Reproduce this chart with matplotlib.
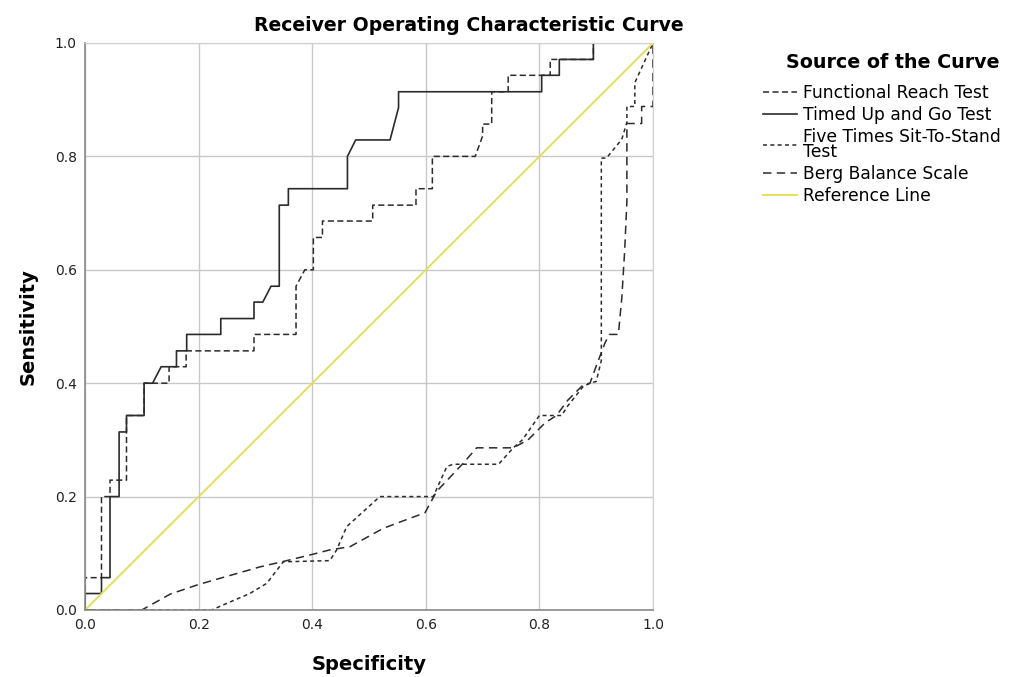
import matplotlib
matplotlib.use("Agg")
import matplotlib.pyplot as plt

plt.rcParams['font.family'] = ['DejaVu Sans']

# ROC curve points (x = "Specificity" axis as labelled in the chart, y = sensitivity)
tug_x = [0, 0, 0.029, 0.029, 0.044, 0.044, 0.060, 0.060, 0.073, 0.073, 0.104, 0.104,
         0.119, 0.134, 0.161, 0.161, 0.179, 0.179, 0.239, 0.239, 0.2975, 0.2975, 0.313,
         0.3275, 0.342, 0.342, 0.358, 0.358, 0.462, 0.462, 0.4765, 0.537, 0.552, 0.552,
         0.804, 0.804, 0.835, 0.835, 0.895, 0.895, 1.0]
tug_y = [0, 0.029, 0.029, 0.057, 0.057, 0.2, 0.2, 0.314, 0.314, 0.343, 0.343, 0.4,
         0.4, 0.429, 0.429, 0.457, 0.457, 0.486, 0.486, 0.514, 0.514, 0.543, 0.543,
         0.571, 0.571, 0.714, 0.714, 0.743, 0.743, 0.8, 0.829, 0.829, 0.886, 0.914,
         0.914, 0.943, 0.943, 0.971, 0.971, 1.0, 1.0]

frt_x = [0, 0, 0.029, 0.029, 0.044, 0.044, 0.073, 0.073, 0.104, 0.104, 0.148, 0.148,
         0.178, 0.178, 0.2975, 0.2975, 0.3715, 0.3715, 0.387, 0.402, 0.402, 0.418,
         0.418, 0.5065, 0.5065, 0.5827, 0.5827, 0.6115, 0.6115, 0.687, 0.70, 0.70,
         0.716, 0.716, 0.745, 0.745, 0.819, 0.819, 0.895, 0.895, 1.0]
frt_y = [0, 0.057, 0.057, 0.2, 0.2, 0.229, 0.229, 0.343, 0.343, 0.4, 0.4, 0.429,
         0.429, 0.457, 0.457, 0.486, 0.486, 0.571, 0.6, 0.6, 0.657, 0.657,
         0.686, 0.686, 0.714, 0.714, 0.743, 0.743, 0.8, 0.8, 0.836, 0.857,
         0.857, 0.914, 0.914, 0.943, 0.943, 0.971, 0.971, 1.0, 1.0]

ftsts_x = [0, 0.223, 0.2435, 0.29, 0.32, 0.349, 0.431, 0.443, 0.4607, 0.519, 0.613,
           0.637, 0.648, 0.728, 0.754, 0.77, 0.80, 0.839, 0.85, 0.877, 0.889, 0.90,
           0.909, 0.909, 0.918, 0.945, 0.954, 0.954, 0.968, 0.968, 1.0]
ftsts_y = [0, 0, 0.009, 0.029, 0.047, 0.085, 0.087, 0.106, 0.147, 0.2, 0.2,
           0.253, 0.257, 0.257, 0.286, 0.30, 0.343, 0.343, 0.36, 0.394, 0.40, 0.403,
           0.44, 0.797, 0.797, 0.83, 0.86, 0.888, 0.888, 0.93, 1.0]

bbs_x = [0, 0.10, 0.15, 0.20, 0.308, 0.355, 0.396, 0.431, 0.4665, 0.525, 0.5986,
         0.619, 0.666, 0.6895, 0.754, 0.78, 0.81, 0.83, 0.85, 0.877, 0.889, 0.90,
         0.915, 0.923, 0.939, 0.945, 0.95, 0.954, 0.954, 0.98, 0.98, 1.0, 1.0]
bbs_y = [0, 0, 0.028, 0.045, 0.076, 0.087, 0.097, 0.106, 0.1116, 0.144, 0.1716,
         0.209, 0.259, 0.286, 0.286, 0.30, 0.33, 0.343, 0.37, 0.397, 0.40, 0.43,
         0.47, 0.486, 0.486, 0.55, 0.632, 0.72, 0.858, 0.858, 0.888, 0.888, 1.0]

ref_x = [0, 1]
ref_y = [0, 1]

ticks = [0.0, 0.2, 0.4, 0.6, 0.8, 1.0]

fig = plt.figure(figsize=(10.17, 6.77), dpi=100)
ax = fig.add_axes([0.0836, 0.099, 0.5585, 0.8375])

line_col = '#2b2b2b'
ax.plot(frt_x, frt_y, color=line_col, lw=1.1, dashes=(4, 2.2), label='Functional Reach Test')
ax.plot(tug_x, tug_y, color=line_col, lw=1.2, label='Timed Up and Go Test')
ax.plot(ftsts_x, ftsts_y, color=line_col, lw=1.1, dashes=(2.6, 2.2),
        label='Five Times Sit-To-Stand\nTest')
ax.plot(bbs_x, bbs_y, color=line_col, lw=1.1, dashes=(5.5, 3.5), label='Berg Balance Scale')
ax.plot(ref_x, ref_y, color='#e6dc4c', lw=1.3, label='Reference Line')

ax.set_xlim(0, 1)
ax.set_ylim(0, 1)
ax.set_xticks(ticks)
ax.set_yticks(ticks)
ax.set_xticklabels([f"{t:.1f}" for t in ticks])
ax.set_yticklabels([f"{t:.1f}" for t in ticks])
ax.tick_params(length=0, labelsize=10, pad=6, colors='#222222')
ax.grid(True, color='#c8c8c8', lw=1)
ax.set_axisbelow(True)
for side in ['top', 'right']:
    ax.spines[side].set_color('#d0d0d0')
for side in ['left', 'bottom']:
    ax.spines[side].set_color('#8a8a8a')
    ax.spines[side].set_linewidth(1.2)

ax.set_xlabel('Specificity', fontsize=14, fontweight='bold', labelpad=16)
ax.set_ylabel('Sensitivity', fontsize=14, fontweight='bold', labelpad=12)
fig.text(0.461, 0.962, 'Receiver Operating Characteristic Curve', ha='center', va='center',
         fontsize=13.6, fontweight='bold')

# legend title placed separately so it sits right of the entries as in the original
fig.text(893 / 1017, 1 - 62 / 677, 'Source of the Curve', ha='center', va='center',
         fontsize=13.7, fontweight='bold')
leg = ax.legend(loc='upper left', bbox_to_anchor=(763 / 1017, 1 - 84 / 677),
                bbox_transform=fig.transFigure, frameon=False, fontsize=12.3,
                handlelength=2.0, handletextpad=0.35, labelspacing=0.22, borderpad=0,
                borderaxespad=0)
for t in leg.get_texts():
    t.set_linespacing(0.85)

fig.savefig('out.png', dpi=100)
